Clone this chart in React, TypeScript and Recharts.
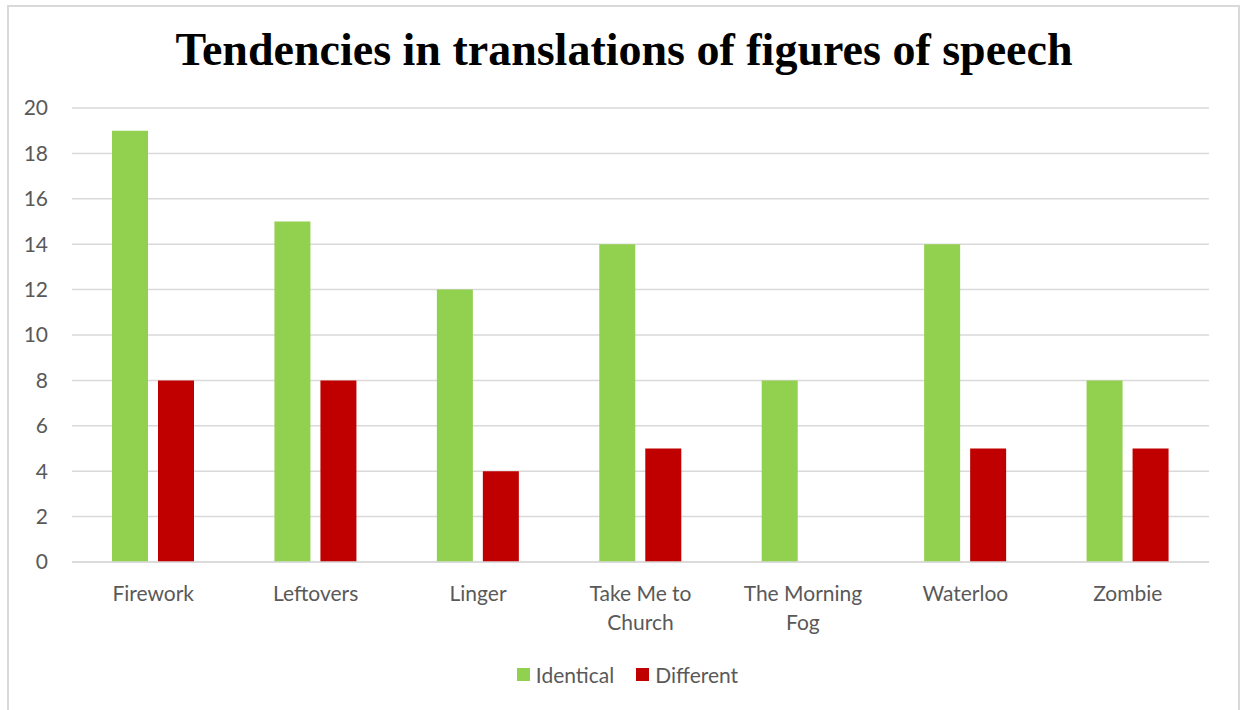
import React from 'react';
import { BarChart, Bar, XAxis, YAxis, CartesianGrid, Legend } from 'recharts';

const songs = ['Firework', 'Leftovers', 'Linger', 'Take Me to Church', 'The Morning Fog', 'Waterloo', 'Zombie'];
const identical = [19, 15, 12, 14, 8, 14, 8];
const different = [8, 8, 4, 5, 0, 5, 5];
const yTicks = [0, 2, 4, 6, 8, 10, 12, 14, 16, 18, 20];

const data = songs.map((song, i) => ({ song, identical: identical[i], different: different[i] }));

const axisFont = 'Lato, "Open Sans", sans-serif';
const grey = '#595959';

// greedy word wrap, about 11 characters a line like the original
const wrap = (label: string, max = 11) => {
  const lines: string[] = [];
  let cur = '';
  label.split(' ').forEach((w) => {
    const next = cur ? cur + ' ' + w : w;
    if (next.length > max && cur) {
      lines.push(cur);
      cur = w;
    } else {
      cur = next;
    }
  });
  if (cur) lines.push(cur);
  return lines;
};

const SongTick = (props: any) => {
  const { x, y, payload } = props;
  const lines = wrap(String(payload.value));
  return (
    <text x={x} y={y + 31} textAnchor="middle" fill={grey} fontSize={21} fontFamily={axisFont}>
      {lines.map((l, i) => (
        <tspan key={i} x={x} dy={i === 0 ? 0 : 29}>
          {l}
        </tspan>
      ))}
    </text>
  );
};

const LegendContent = () => (
  <div style={{ display: 'flex', justifyContent: 'center', alignItems: 'center', fontFamily: axisFont, fontSize: 21, color: grey, height: 40, paddingLeft: 46 }}>
    <span style={{ display: 'inline-block', width: 13, height: 13, background: '#92D050', marginRight: 6 }} />
    <span style={{ marginRight: 22 }}>Identical</span>
    <span style={{ display: 'inline-block', width: 13, height: 13, background: '#C00000', marginRight: 6 }} />
    <span>Different</span>
  </div>
);

const App: React.FC = () => {
  return (
    <div style={{ position: 'absolute', left: 0, top: 0, width: 1240, height: 710, background: '#fff', overflow: 'hidden' }}>
      <div style={{ position: 'absolute', left: 7, top: 5, width: 1229, height: 720, border: '2px solid #d9d9d9' }} />
      <div
        style={{
          position: 'absolute',
          left: 0,
          width: 1248,
          top: 23,
          textAlign: 'center',
          fontFamily: '"Liberation Serif", "DejaVu Serif", serif',
          fontWeight: 700,
          fontSize: 46,
          color: '#000',
        }}
      >
        Tendencies in translations of figures of speech
      </div>
      <div style={{ position: 'absolute', left: 0, top: 0 }}>
        <BarChart
          width={1240}
          height={710}
          data={data}
          margin={{ top: 108, right: 31, left: 0, bottom: 16 }}
          barSize={36}
          barGap={10}
        >
          <CartesianGrid vertical={false} stroke="#d9d9d9" strokeWidth={1.5} />
          <XAxis
            dataKey="song"
            height={92}
            interval={0}
            tickLine={false}
            axisLine={{ stroke: '#d9d9d9', strokeWidth: 1.5 }}
            tick={<SongTick />}
          />
          <YAxis
            width={72}
            domain={[0, 20]}
            ticks={yTicks}
            tickLine={false}
            axisLine={false}
            tickMargin={18}
            tick={{ fill: grey, fontSize: 21, fontFamily: axisFont }}
          />
          <Legend verticalAlign="bottom" height={40} content={<LegendContent />} />
          <Bar dataKey="identical" name="Identical" fill="#92D050" isAnimationActive={false} />
          <Bar dataKey="different" name="Different" fill="#C00000" isAnimationActive={false} />
        </BarChart>
      </div>
    </div>
  );
};

export default App;
